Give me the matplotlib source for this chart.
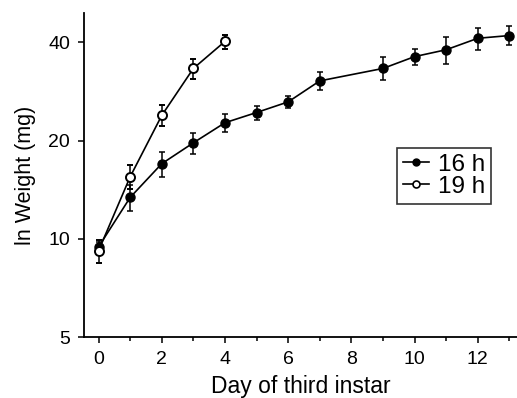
import numpy as np
import matplotlib.pyplot as plt
from matplotlib.lines import Line2D
from matplotlib.ticker import FixedLocator, NullFormatter, NullLocator

plt.rcParams['font.family'] = ['Liberation Sans', 'DejaVu Sans']

# 16 h photoperiod
days_16 = [0, 1, 2, 3, 4, 5, 6, 7, 9, 10, 11, 12, 13]
wt_16 = [9.45, 13.4, 17.0, 19.7, 22.7, 24.4, 26.3, 30.5, 33.3, 36.2, 38.0, 41.2, 42.0]
err_16 = [0.35, 1.2, 1.5, 1.45, 1.4, 1.2, 1.2, 2.0, 2.7, 2.1, 3.6, 3.2, 2.8]

# 19 h photoperiod
days_19 = [0, 1, 2, 3, 4]
wt_19 = [9.2, 15.5, 23.9, 33.3, 40.3]
err_19 = [0.75, 1.3, 1.75, 2.3, 2.0]

yticks = [5, 10, 20, 40]

fig = plt.figure(figsize=(5.17, 3.98), dpi=100)
ax = fig.add_axes([0.1625, 0.153, 0.8375, 0.814])

ax.errorbar(days_16, wt_16, yerr=err_16, color='black', marker='o', ms=6.5,
            mfc='black', mec='black', lw=1.2, elinewidth=1.1, capsize=2.5,
            capthick=1.1)
ax.errorbar(days_19, wt_19, yerr=err_19, color='black', marker='o', ms=6.5,
            mfc='white', mec='black', mew=1.4, lw=1.2, elinewidth=1.1,
            capsize=2.5, capthick=1.1)

ax.set_yscale('log', base=2)
ax.set_ylim(5, 49.2)
ax.yaxis.set_major_locator(FixedLocator(yticks))
ax.set_yticklabels([str(t) for t in yticks])
ax.yaxis.set_minor_locator(NullLocator())
ax.yaxis.set_minor_formatter(NullFormatter())

ax.set_xlim(-0.46, 13.24)
ax.set_xticks(range(0, 13, 2))
ax.set_xticks(range(1, 14, 2), minor=True)

ax.spines['top'].set_visible(False)
ax.spines['right'].set_visible(False)
ax.spines['left'].set_linewidth(1.3)
ax.spines['bottom'].set_linewidth(1.3)
ax.tick_params(axis='both', which='major', direction='out', length=4,
               width=1.1, labelsize=14, pad=6)
ax.tick_params(axis='x', which='minor', direction='out', length=3, width=1.1)

ax.set_xlabel('Day of third instar', fontsize=16.5, labelpad=5)
ax.set_ylabel('ln Weight (mg)', fontsize=15.5, labelpad=9)

handles = [Line2D([], [], color='black', lw=1.2, marker='o', ms=5,
                  mfc='black', mec='black'),
           Line2D([], [], color='black', lw=1.2, marker='o', ms=5,
                  mfc='white', mec='black', mew=1.2)]
leg = ax.legend(handles, ['16 h', '19 h'], loc='upper left',
                bbox_to_anchor=(0.722, 0.585), fontsize=17.5,
                frameon=True, fancybox=False, edgecolor='black',
                handlelength=1.1, handletextpad=0.35, borderpad=0.25,
                labelspacing=0.0, borderaxespad=0)
leg.get_frame().set_linewidth(1.2)

fig.savefig('out.png', dpi=100)
